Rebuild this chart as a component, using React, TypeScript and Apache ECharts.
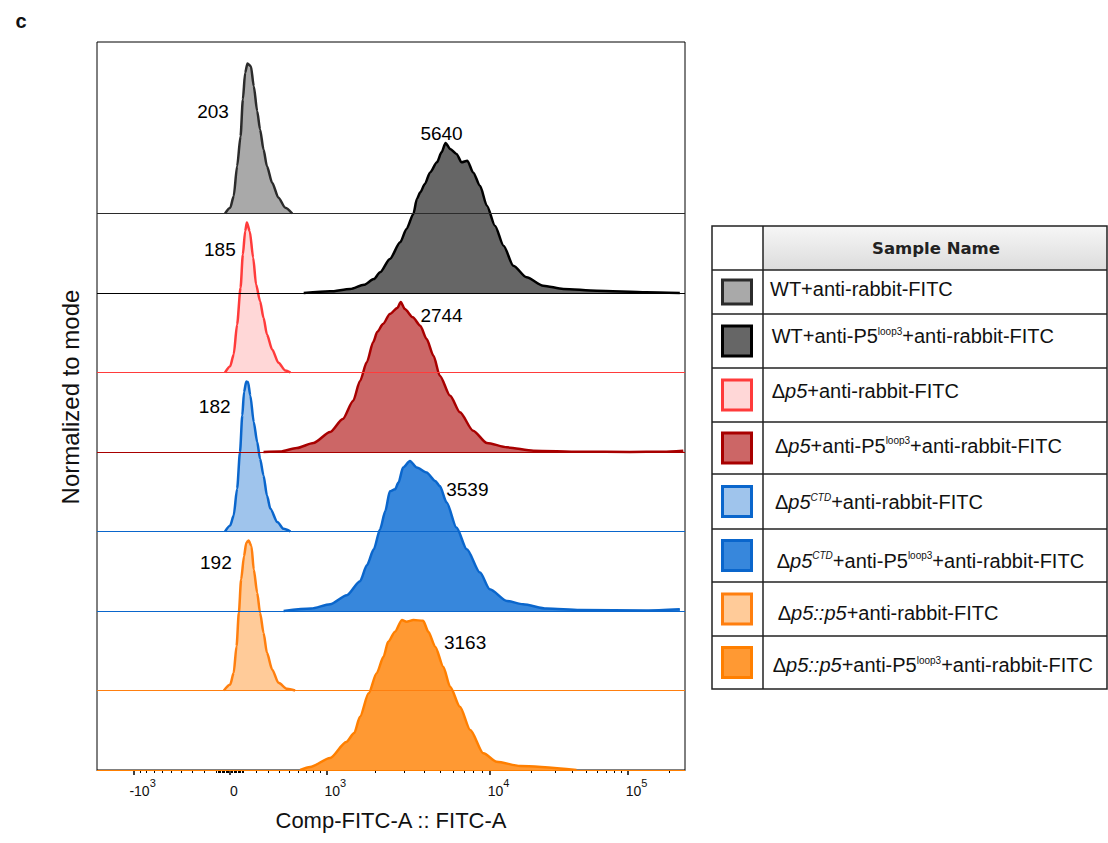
import React, { useEffect, useRef } from "react";
import * as echarts from "echarts";

const FONT = '"Liberation Sans", Arial, Helvetica, sans-serif';

// ---- histogram data: [display channel (0-1024), % of mode] ----
const WT_ISO = [[223,0],[232,3.8],[238,11.5],[244,31.5],[250,51.5],[254,76],[258,93.8],[262,100],[268,98.2],[273,84.9],[279,68.2],[284,56],[290,42.7],[296,31.5],[305,20.5],[316,10.5],[328,3.8],[340,0]];
const WT_LOOP3 = [[360,0],[406,1.1],[441,2.7],[465,5.5],[482,9.3],[493,13.8],[510,22.7],[528,33.8],[539,42.7],[551,52.7],[557,62.7],[563,67.1],[571,72.7],[580,80.4],[592,87.1],[600,93.8],[607,100],[615,96],[626,92.7],[635,87.1],[645,88.2],[655,80.4],[667,71.5],[679,58.2],[693,44.9],[708,31.5],[725,18.2],[748,10.5],[777,4.9],[812,2.7],[870,1.5],[957,0.5],[1015,0]];
const DP5_ISO = [[223,0],[232,4.2],[238,12],[244,32],[250,56.5],[254,78.7],[258,94.2],[261,100],[266,94.2],[272,76.5],[277,58.7],[284,47.5],[290,36.5],[296,25.3],[305,15.3],[316,6.5],[328,1.3],[337,0]];
const DP5_LOOP3 = [[290,0],[319,0.3],[348,2.7],[377,6],[406,13.3],[428,22],[446,34],[458,47.3],[470,60],[481,73.3],[488,80],[498,85.3],[510,92],[523,96],[529,100],[536,95.3],[550,89.8],[563,84.2],[574,75.3],[586,64.2],[597,50.9],[615,37.5],[632,26.5],[655,14.2],[679,6],[714,3.1],[760,0.9],[841,0.2],[928,0],[986,0.2],[1021,0.9]];
const CTD_ISO = [[223,0],[232,4],[238,10.7],[244,28.5],[249,52.9],[253,77.3],[256,92.9],[260,100],[263,99.6],[267,90.7],[273,72.9],[279,59.6],[284,48.5],[290,37.3],[296,24],[302,15.1],[314,6.3],[325,1.8],[337,0]];
const CTD_LOOP3 = [[325,0],[373,1.6],[406,4.5],[435,10.5],[458,19.8],[470,30.5],[482,41.1],[493,54.5],[502,66.5],[510,79.8],[519,81.1],[525,85.6],[533,95.6],[545,100],[557,95.6],[574,92.3],[589,86.7],[597,83.3],[609,72.3],[626,55.6],[644,41.1],[667,25.6],[684,14.5],[714,6.7],[742,4.5],[783,1.6],[841,0.7],[957,0.3],[1015,1.1]];
const COMP_ISO = [[221,0],[232,4],[238,11.8],[243,29.5],[247,51.8],[251,74],[256,89.5],[260,98.5],[264,100],[269,96.2],[273,80.7],[279,65.1],[284,51.8],[290,38.5],[296,25.1],[305,14],[316,5.1],[331,1.1],[345,0]];
const COMP_LOOP3 = [[354,0],[371,2],[406,8],[434,18.7],[448,24.7],[458,35.5],[473,51.1],[487,64.5],[499,75.5],[507,85.5],[519,92.2],[531,100],[539,98.9],[551,100],[568,99.5],[577,92.2],[589,82.2],[603,68.9],[615,55.5],[632,42.2],[650,26.7],[673,11.1],[696,5.5],[737,2.7],[835,0]];

// top row first
const HISTOGRAMS = [WT_ISO, WT_LOOP3, DP5_ISO, DP5_LOOP3, CTD_ISO, CTD_LOOP3, COMP_ISO, COMP_LOOP3];

const SAMPLE_NAMES = [
  "WT+anti-rabbit-FITC",
  "WT+anti-P5loop3+anti-rabbit-FITC",
  "Δp5+anti-rabbit-FITC",
  "Δp5+anti-P5loop3+anti-rabbit-FITC",
  "Δp5CTD+anti-rabbit-FITC",
  "Δp5CTD+anti-P5loop3+anti-rabbit-FITC",
  "Δp5::p5+anti-rabbit-FITC",
  "Δp5::p5+anti-P5loop3+anti-rabbit-FITC",
];
const LEGEND_RICH = [
  "{t|WT+anti-rabbit-FITC}",
  "{t|WT+anti-P5}{sup|loop3}{t|+anti-rabbit-FITC}",
  "{t|Δ}{i|p5}{t|+anti-rabbit-FITC}",
  "{t|Δ}{i|p5}{t|+anti-P5}{sup|loop3}{t|+anti-rabbit-FITC}",
  "{t|Δ}{i|p5}{isup|CTD}{t|+anti-rabbit-FITC}",
  "{t|Δ}{i|p5}{isup|CTD}{t|+anti-P5}{sup|loop3}{t|+anti-rabbit-FITC}",
  "{t|Δ}{i|p5::p5}{t|+anti-rabbit-FITC}",
  "{t|Δ}{i|p5::p5}{t|+anti-P5}{sup|loop3}{t|+anti-rabbit-FITC}",
];

// median fluorescence annotations (text + anchor in channel / stacked-% units)
const ANNOTATION_TEXT = ["203", "5640", "185", "2744", "182", "3539", "192", "3163"];
const ANNOTATION_AT = [[202,439],[600,424],[214,347],[600,303],[205,242],[645,187],[207,138],[641,85]];

// axis ticks (fluorescence values)
const MAJOR_TICK_VALUES = [-1000, 0, 1000, 10000, 100000];
const MAJOR_TICK_BASE = ["-10", "0", "10", "10", "10"];
const MAJOR_TICK_EXP = ["3", "", "3", "4", "5"];
const MINOR_TICK_VALUES = [
  -900,-800,-700,-600,-500,-400,-300,-200,-100,
  -90,-80,-70,-60,-50,-40,-30,-20,-10,
  10,20,30,40,50,60,70,80,90,
  100,200,300,400,500,600,700,800,900,
  2000,3000,4000,5000,6000,7000,8000,9000,
  20000,30000,40000,50000,60000,70000,80000,90000,
  200000,
];

// ---- styles ----
const STYLES = [
  { fill: "#a9a9a9", stroke: "#2b2b2b" },
  { fill: "#666666", stroke: "#000000" },
  { fill: "#ffd7d7", stroke: "#ff3b3b" },
  { fill: "#cc6666", stroke: "#a80000" },
  { fill: "#9fc4ec", stroke: "#0a66cc" },
  { fill: "#3787dc", stroke: "#0a66cc" },
  { fill: "#ffcb99", stroke: "#ff7f0f" },
  { fill: "#ff9933", stroke: "#ff7f00" },
];
const ROW_STEP = 53;
const Y_MAX = 485.33;

// biexponential-like display transform (value -> display channel)
const ZERO_CH = 231.6;
const LIN_CH = 116.3;
const LIN_W = 500;
const DECADE_CH: [number, number][] = [[3, 399.7], [4, 683.5], [5, 923.9], [6, 1164.3]];
function toChannel(v: number): number {
  const a = Math.abs(v);
  if (a <= 1000) return ZERO_CH + Math.sign(v) * LIN_CH * Math.asinh(a / LIN_W);
  const d = Math.log10(a);
  let ch = DECADE_CH[DECADE_CH.length - 1][1];
  for (let k = 0; k < DECADE_CH.length - 1; k++) {
    const [d0, c0] = DECADE_CH[k];
    const [d1, c1] = DECADE_CH[k + 1];
    if (d >= d0 && d <= d1) { ch = c0 + (d - d0) / (d1 - d0) * (c1 - c0); break; }
  }
  return v < 0 ? 2 * ZERO_CH - ch : ch;
}

export default function App() {
  const ref = useRef<HTMLDivElement>(null);
  useEffect(() => {
    if (!ref.current) return;
    const chart = echarts.init(ref.current, null, { renderer: "svg" });
    const majorCh = MAJOR_TICK_VALUES.map(toChannel);
    const minorCh = MINOR_TICK_VALUES.map(toChannel);
    const n = HISTOGRAMS.length;

    const series: any[] = [];
    for (let i = n - 1; i >= 0; i--) {
      const offset = (n - 1 - i) * ROW_STEP;
      series.push({
        type: "line",
        name: SAMPLE_NAMES[i],
        data: HISTOGRAMS[i].map(([x, v]) => [x, v + offset]),
        symbol: "none",
        smooth: 0.25,
        smoothMonotone: "x",
        lineStyle: { color: STYLES[i].stroke, width: 2.5 },
        areaStyle: { color: STYLES[i].fill, opacity: 1, origin: offset },
        z: 2,
        markLine: {
          silent: true,
          symbol: ["none", "none"],
          label: { show: false },
          lineStyle: { color: STYLES[i].stroke, width: 1, type: "solid" },
          data: [{ yAxis: offset }],
        },
      });
    }
    series.push({
      type: "scatter",
      z: 10,
      symbolSize: 1,
      itemStyle: { color: "rgba(0,0,0,0)" },
      label: {
        show: true,
        position: "inside",
        formatter: "{b}",
        fontSize: 19,
        fontFamily: FONT,
        color: "#000",
        opacity: 1,
        textBorderWidth: 0,
      },
      data: ANNOTATION_TEXT.map((t, k) => ({ name: t, value: ANNOTATION_AT[k] })),
    });

    const rowLines = [226, 270, 314, 368, 422, 474, 529, 582, 636, 689];
    const textY = [288.7, 336, 390.7, 445.7, 502.3, 560.7, 613.3, 665];
    const textX = [770, 771.7, 771.7, 775, 775, 776.7, 777.7, 772.7];
    const graphic: any[] = [
      { type: "text", x: 21, y: 21, style: { text: "c", fontSize: 20, fontWeight: "bold", fontFamily: FONT, fill: "#111", align: "center", verticalAlign: "middle" } },
      { type: "text", x: 70, y: 397, rotation: Math.PI / 2, style: { text: "Normalized to mode", fontSize: 24, fontFamily: FONT, fill: "#111", align: "center", verticalAlign: "middle" } },
      {
        type: "rect", shape: { x: 763, y: 226, width: 344, height: 44 },
        style: { fill: new echarts.graphic.LinearGradient(0, 0, 0, 1, [{ offset: 0, color: "#f6f6f6" }, { offset: 1, color: "#dcdcdc" }]) },
      },
      { type: "text", x: 936, y: 248, style: { text: "Sample Name", fontSize: 16.5, fontWeight: "bold", fontFamily: '"DejaVu Sans", sans-serif', fill: "#222", align: "center", verticalAlign: "middle" } },
      { type: "rect", shape: { x: 712, y: 226, width: 395, height: 463 }, style: { fill: "none", stroke: "#222", lineWidth: 1.5 } },
      { type: "line", shape: { x1: 763, y1: 226, x2: 763, y2: 689 }, style: { stroke: "#222", lineWidth: 1.5 } },
    ];
    for (let r = 1; r < rowLines.length - 1; r++) {
      graphic.push({ type: "line", shape: { x1: 712, y1: rowLines[r], x2: 1107, y2: rowLines[r] }, style: { stroke: "#222", lineWidth: 1.5 } });
    }
    for (let i = 0; i < n; i++) {
      const cy = (rowLines[i + 1] + rowLines[i + 2]) / 2;
      const h = i === 0 ? 24 : 30;
      graphic.push({
        type: "rect", shape: { x: 722.5, y: cy - h / 2, width: 29, height: h },
        style: { fill: STYLES[i].fill, stroke: STYLES[i].stroke, lineWidth: 3 },
      });
      graphic.push({
        type: "text", x: textX[i], y: textY[i],
        style: {
          text: LEGEND_RICH[i], fontSize: 20, fontFamily: FONT, fill: "#111", align: "left", verticalAlign: "middle",
          rich: {
            t: { fontSize: 20, fontFamily: FONT, fill: "#111", lineHeight: 26, verticalAlign: "middle" },
            i: { fontSize: 20, fontFamily: FONT, fontStyle: "italic", fill: "#111", lineHeight: 26, verticalAlign: "middle" },
            sup: { fontSize: 10, fontFamily: FONT, fill: "#111", lineHeight: 26, verticalAlign: "middle", padding: [0, 0, 10, 0] },
            isup: { fontSize: 10, fontFamily: FONT, fontStyle: "italic", fill: "#111", lineHeight: 26, verticalAlign: "middle", padding: [0, 0, 10, 0] },
          },
        },
      });
    }

    chart.setOption({
      animation: false,
      backgroundColor: "#ffffff",
      grid: { left: 97, top: 42, width: 588, height: 728, show: true, borderColor: "#000", borderWidth: 1, backgroundColor: "transparent", containLabel: false },
      xAxis: [
        {
          type: "value", min: 0, max: 1024, position: "bottom",
          axisLine: { show: true, onZero: false, lineStyle: { color: "#000", width: 1 } },
          splitLine: { show: false },
          axisTick: { show: true, customValues: majorCh, length: 5, lineStyle: { color: "#000", width: 1.5 } },
          axisLabel: {
            show: true, customValues: majorCh, margin: 6, color: "#111",
            formatter: (val: number) => {
              const k = majorCh.findIndex((c) => Math.abs(c - val) < 0.5);
              if (k < 0) return "";
              if (!MAJOR_TICK_EXP[k]) return `{z|${MAJOR_TICK_BASE[k]}}`;
              return `{n|${MAJOR_TICK_BASE[k]}}{s|${MAJOR_TICK_EXP[k]}}`;
            },
            rich: {
              n: { fontSize: 14, fontFamily: FONT, color: "#111", lineHeight: 30, verticalAlign: "middle", padding: [0, 0, 0, 18] },
              s: { fontSize: 11, fontFamily: FONT, color: "#111", lineHeight: 30, verticalAlign: "middle", padding: [0, 0, 17, 0] },
              z: { fontSize: 14, fontFamily: FONT, color: "#111", lineHeight: 30, verticalAlign: "middle", padding: [0, 0, 0, 8] },
            },
          },
          name: "Comp-FITC-A :: FITC-A",
          nameLocation: "middle",
          nameGap: 49,
          nameTextStyle: { fontSize: 22, fontFamily: FONT, color: "#111", verticalAlign: "middle" },
        },
        {
          type: "value", min: 0, max: 1024, position: "bottom",
          axisLine: { show: false },
          splitLine: { show: false },
          axisTick: { show: true, customValues: minorCh, length: 3, lineStyle: { color: "#000", width: 1 } },
          axisLabel: { show: false },
        },
      ],
      yAxis: { type: "value", min: 0, max: Y_MAX, show: false },
      series,
      graphic,
    });
    return () => chart.dispose();
  }, []);
  return <div ref={ref} style={{ position: "fixed", left: 0, top: 0, width: 1108, height: 843, background: "#fff" }} />;
}
